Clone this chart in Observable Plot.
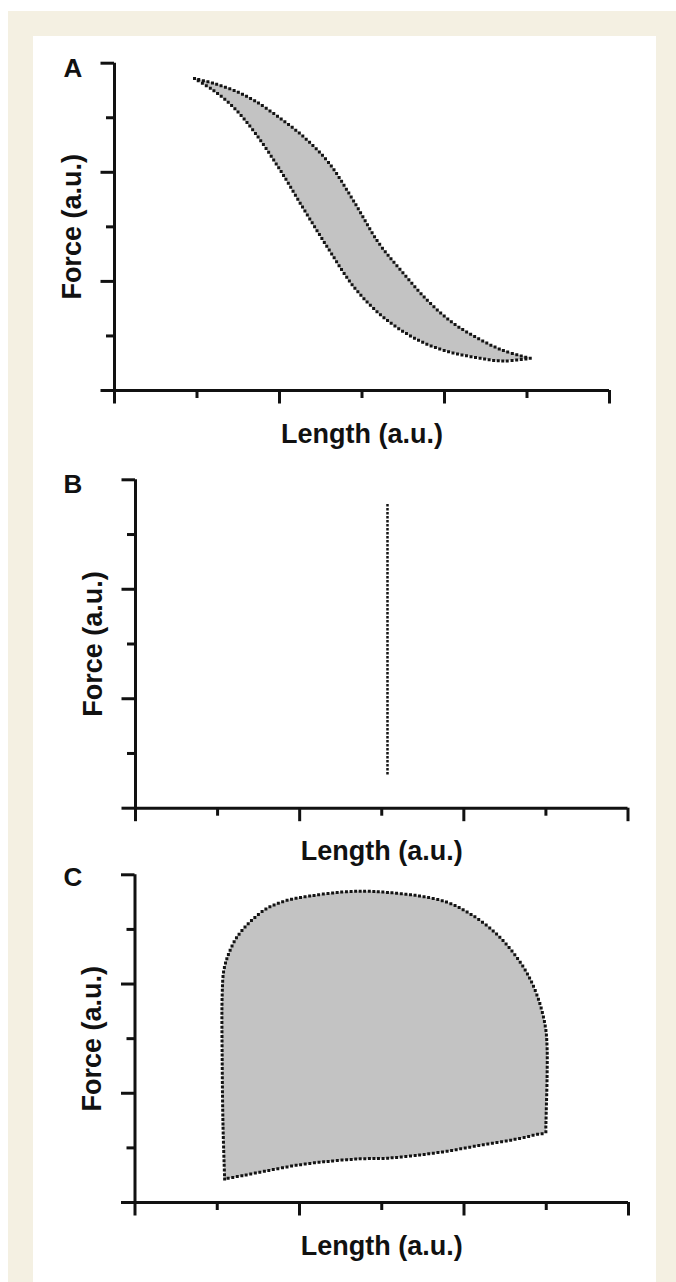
<!DOCTYPE html>
<html>
<head>
<meta charset="utf-8">
<script src="https://cdn.jsdelivr.net/npm/d3@7"></script>
<script src="https://cdn.jsdelivr.net/npm/@observablehq/plot@0.6"></script>
<style>
  html, body { margin: 0; padding: 0; background: #fff; overflow: hidden; }
  #page { position: relative; width: 676px; height: 1282px; background: #fff; overflow: hidden; }
  #beige { position: absolute; left: 8px; top: 11px; width: 668px; height: 1271px; background: #f4f0e2; }
  #panel { position: absolute; left: 32.5px; top: 36px; width: 623.5px; height: 1246px; background: #fff; }
  #page svg { position: absolute; left: 0; overflow: visible; background: transparent; }
</style>
</head>
<body>
<div id="page"><div id="beige"></div><div id="panel"></div></div>
<script>
// ---- tick values and labels ----
const xTicksMajor = [0, 2, 4, 6];
const xTicksMinor = [1, 3, 5];
const yTicksMajor = [0, 2, 4, 6];
const yTicksMinor = [1, 3, 5];
const panelLetters = ["A", "B", "C"];
const xLabel = "Length (a.u.)";
const yLabel = "Force (a.u.)";

// ---- Panel A: band between two curves ----
const lengthA     = [0.97, 1.2, 1.45, 1.7, 2.0, 2.3, 2.6, 2.9, 3.2, 3.5, 3.8, 4.1, 4.4, 4.7, 5.04];
const forceUpperA = [5.72, 5.63, 5.50, 5.31, 5.00, 4.64, 4.17, 3.47, 2.71, 2.15, 1.64, 1.24, 0.96, 0.74, 0.59];
const forceLowerA = [5.72, 5.50, 5.18, 4.73, 4.06, 3.31, 2.58, 1.90, 1.42, 1.08, 0.84, 0.69, 0.60, 0.54, 0.59];

// ---- Panel B: vertical line ----
const lengthB = [3.07, 3.07];
const forceB  = [0.64, 5.59];

// ---- Panel C: closed loop (upper arc, then lower edge back) ----
const lengthC = [1.09,1.07,1.06,1.06,1.08,1.14,1.24,1.40,1.60,1.84,2.12,2.49,2.79,3.05,3.42,3.79,4.07,4.35,4.58,4.77,4.91,4.99,5.01,5.01,5.00,4.995,4.99,4.90,4.60,4.20,3.80,3.40,3.05,2.75,2.40,2.00,1.60,1.30,1.12,1.09];
const forceC  = [0.43,1.40,2.60,3.80,4.25,4.56,4.86,5.14,5.38,5.53,5.61,5.68,5.70,5.68,5.62,5.50,5.29,4.98,4.61,4.19,3.70,3.21,2.84,2.29,1.68,1.40,1.28,1.25,1.15,1.05,0.94,0.86,0.81,0.80,0.76,0.69,0.58,0.49,0.44,0.43];

const tableA = lengthA.map((x, i) => ({length: x, lower: forceLowerA[i], upper: forceUpperA[i]}));
const tableB = lengthB.map((x, i) => ({length: x, force: forceB[i]}));
const tableC = lengthC.map((x, i) => ({length: x, force: forceC[i]}));

const INK = "#111";
const AXW = 3;
const dotted = {stroke: "#141414", strokeWidth: 3, strokeDasharray: "0,4.6", strokeLinecap: "square"};
const FILL = "#c3c3c3";
const FONT = "'Liberation Sans', Arial, Helvetica, sans-serif";

function panel(cfg) {
  const svg = Plot.plot({
    width: 676,
    height: cfg.height,
    marginTop: cfg.mTop,
    marginBottom: cfg.mBottom,
    marginLeft: cfg.mLeft,
    marginRight: cfg.mRight,
    x: {domain: [0, 6]},
    y: {domain: [0, 6]},
    style: {fontFamily: FONT, color: INK, background: "transparent", overflow: "visible"},
    marks: [
      ...cfg.marks,
      Plot.ruleY([0], {stroke: INK, strokeWidth: AXW}),
      Plot.ruleX([0], {stroke: INK, strokeWidth: AXW}),
      Plot.axisX({ticks: xTicksMajor, tickSize: 13.5, tickFormat: () => "", label: null, stroke: INK, strokeWidth: AXW}),
      Plot.axisX({ticks: xTicksMinor, tickSize: 8, tickFormat: () => "", label: null, stroke: INK, strokeWidth: AXW}),
      Plot.axisY({ticks: yTicksMajor, tickSize: 13.5, tickFormat: () => "", label: null, stroke: INK, strokeWidth: AXW}),
      Plot.axisY({ticks: yTicksMinor, tickSize: 8, tickFormat: () => "", label: null, stroke: INK, strokeWidth: AXW}),
      Plot.text([cfg.letter], {text: d => d, frameAnchor: "top-left", dx: 63 - cfg.mLeft, dy: cfg.letterDy,
        textAnchor: "start", lineAnchor: "bottom", fontSize: 26, fontWeight: "bold", fill: INK}),
      Plot.text([xLabel], {text: d => d, frameAnchor: "bottom", dy: 52, textAnchor: "middle",
        lineAnchor: "bottom", fontSize: 27, fontWeight: "bold", fill: INK}),
      Plot.text([yLabel], {text: d => d, frameAnchor: "left", dx: -34, rotate: -90, textAnchor: "middle",
        lineAnchor: "bottom", fontSize: 27, fontWeight: "bold", fill: INK})
    ]
  });
  svg.style.top = cfg.top + "px";
  document.getElementById("page").appendChild(svg);
}

// Panel A
panel({
  letter: panelLetters[0], top: 0, height: 470,
  mTop: 62.7, mBottom: 80, mLeft: 114, mRight: 67, letterDy: 13.5,
  marks: [
    Plot.areaY(tableA, {x: "length", y1: "lower", y2: "upper", fill: FILL, curve: "catmull-rom"}),
    Plot.line(tableA, {x: "length", y: "upper", ...dotted, curve: "catmull-rom"}),
    Plot.line(tableA, {x: "length", y: "lower", ...dotted, curve: "catmull-rom"})
  ]
});

// Panel B
panel({
  letter: panelLetters[1], top: 430, height: 470,
  mTop: 49.3, mBottom: 92.3, mLeft: 135, mRight: 48.5, letterDy: 12.8,
  marks: [
    Plot.line(tableB, {x: "length", y: "force", ...dotted, strokeWidth: 2.5, strokeDasharray: "0,4"})
  ]
});

// Panel C
panel({
  letter: panelLetters[2], top: 850, height: 432,
  mTop: 24.3, mBottom: 80, mLeft: 134.5, mRight: 48, letterDy: 11.5,
  marks: [
    Plot.line(tableC, {x: "length", y: "force", fill: FILL, ...dotted, curve: "catmull-rom"})
  ]
});
</script>
</body>
</html>
